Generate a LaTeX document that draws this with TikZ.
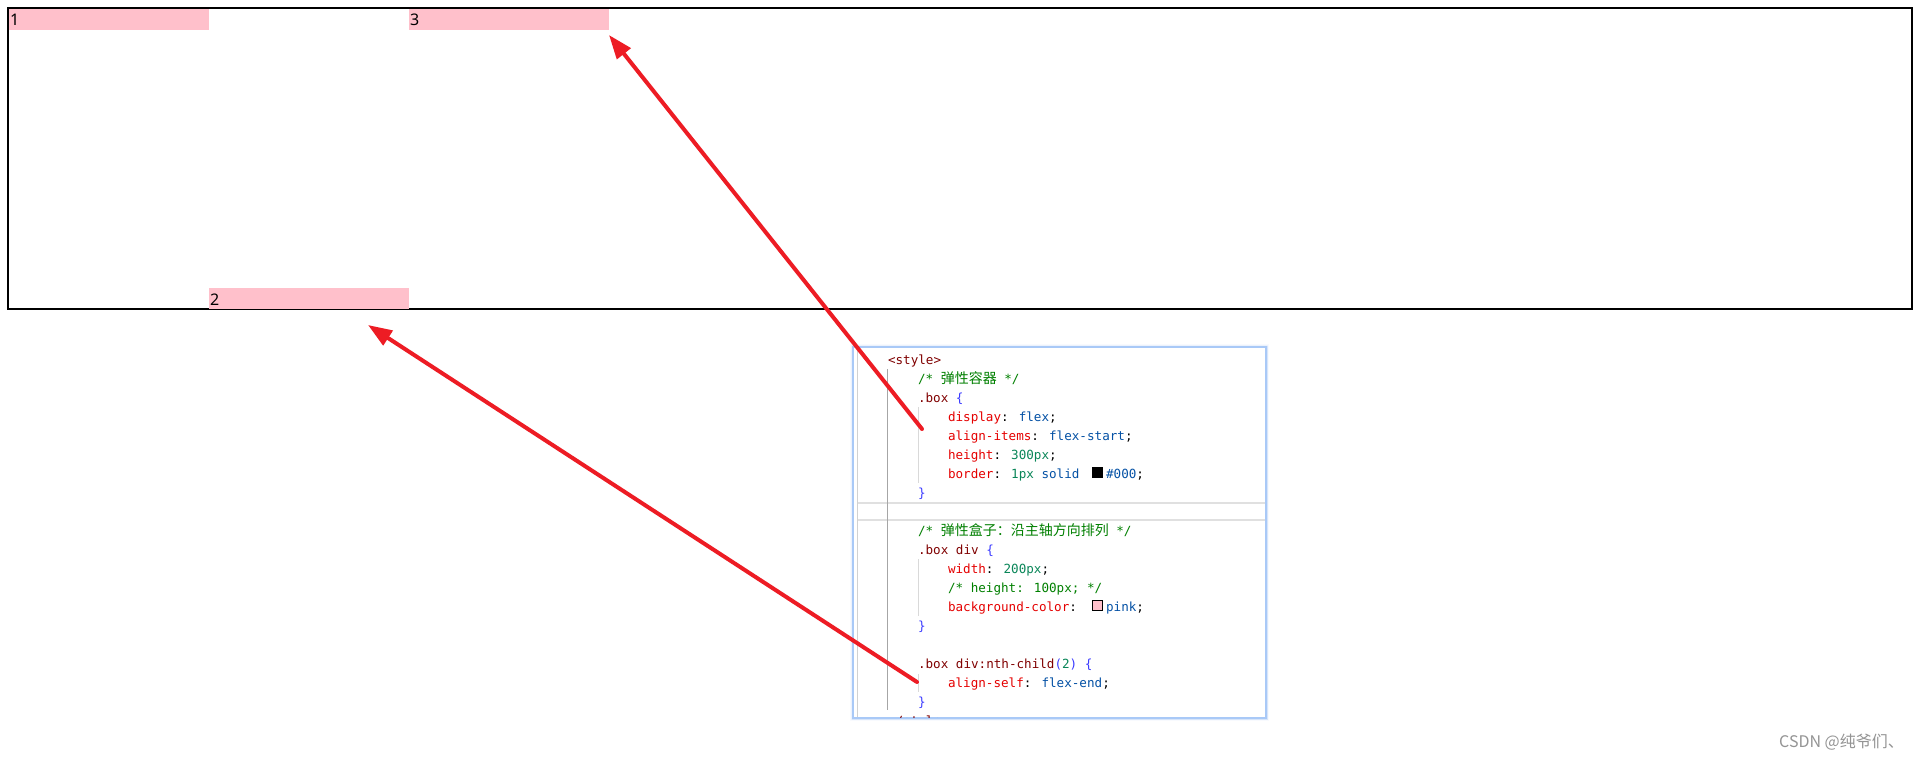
\documentclass[tikz,border=0pt]{standalone}
\usepackage{fontspec}
\usetikzlibrary{arrows.meta}
\newfontfamily\codefont{DejaVu Sans Mono}
\newfontfamily\cjk{Noto Sans CJK SC}
\newfontfamily\labfont{Noto Sans}
\definecolor{pinkc}{HTML}{FFC0CB}
\definecolor{ctag}{HTML}{800000}
\definecolor{ccom}{HTML}{008000}
\definecolor{csel}{HTML}{800000}
\definecolor{cbr}{HTML}{3B3BFF}
\definecolor{cprop}{HTML}{E50000}
\definecolor{cval}{HTML}{0451A5}
\definecolor{cnum}{HTML}{098658}
\definecolor{arrowred}{HTML}{ED1C24}
\definecolor{glow}{HTML}{A9C9F7}
\newcommand\Tg[1]{\textcolor{ctag}{#1}}
\newcommand\Cm[1]{\textcolor{ccom}{#1}}
\newcommand\Sl[1]{\textcolor{csel}{#1}}
\newcommand\Br[1]{\textcolor{cbr}{#1}}
\newcommand\Pp[1]{\textcolor{cprop}{#1}}
\newcommand\Vl[1]{\textcolor{cval}{#1}}
\newcommand\Nm[1]{\textcolor{cnum}{#1}}
\newcommand\Cj[1]{{\cjk\fontsize{14}{14}\selectfont #1}}
\newcommand\Sw[1]{\hspace{5pt}\raisebox{1pt}{\setlength\fboxsep{0pt}\setlength\fboxrule{0.8pt}\fcolorbox{black}{#1}{\rule{0pt}{9.4pt}\rule{9.4pt}{0pt}}}\hspace{3pt}}
\tikzset{
  code/.style={anchor=base west, inner sep=0pt, outer sep=0pt, font=\codefont\fontsize{12.6}{15}\selectfont},
  pinkbox/.style={fill=pinkc, anchor=north west, minimum width=200pt, minimum height=21pt, inner sep=0pt, outer sep=0pt},
  digit/.style={anchor=base west, inner sep=0pt, font=\labfont\fontsize{16}{16}\selectfont},
  redarrow/.style={draw=arrowred, line width=4pt, line cap=round, -{Triangle[length=24pt,width=17pt]}},
  guide/.style={draw=black!35, line width=1pt},
  subguide/.style={draw=black!15, line width=1pt}
}
\begin{document}
\begin{tikzpicture}[x=1pt,y=-1pt]
\useasboundingbox (0,0) rectangle (1920,760);
\fill[white] (0,0) rectangle (1920,760);
% container
\node[draw, line width=1.3pt, anchor=north west, minimum width=1904pt, minimum height=301pt, inner sep=0pt, outer sep=0pt] (container) at (8,8) {};
\node[pinkbox] (b1) at (9,9) {};
\node[pinkbox] (b3) at (409,9) {};
\node[pinkbox] (b2) at (209,288) {};
\node[digit] (t1) at (10,26) {1};
\node[digit] (t3) at (410,26) {3};
\node[digit] (t2) at (210,305) {2};
% code panel glow
\foreach \g/\o in {6/0.08,4.5/0.15,3/0.3} {
  \draw[glow, line width=\g pt, opacity=\o] (853,347) rectangle (1266,718);
}
\node[draw=glow, line width=1.5pt, fill=white, anchor=north west, minimum width=413pt, minimum height=371pt, inner sep=0pt, outer sep=0pt] (panel) at (853,347) {};
\draw[draw=black!18, line width=1pt] (857.5,348) -- (857.5,717);
% current-line highlight
\draw[draw=black!12, line width=1.6pt] (858,503) -- (1265,503) (858,520) -- (1265,520);
% indent guides
\draw[guide] (887.5,369) -- (887.5,710);
\draw[subguide] (918,407) -- (918,483);
\draw[subguide] (918,559) -- (918,616);
\draw[subguide] (918,674) -- (918,692);
% code lines
\begin{scope}
\clip (854,348) rectangle (1265,717);
\node[code] (l1) at (888,364) {\Tg{<style>}};
\node[code] (l2) at (918,383) {\Cm{/* \Cj{弹性容器} */}};
\node[code] (l3) at (918,402) {\Sl{.box} \Br{\{}};
\node[code] (l4) at (948,421) {\Pp{display}: \Vl{flex};};
\node[code] (l5) at (948,440) {\Pp{align-items}: \Vl{flex-start};};
\node[code] (l6) at (948,459) {\Pp{height}: \Nm{300px};};
\node[code] (l7) at (948,478) {\Pp{border}: \Nm{1px} \Vl{solid} \Sw{black}\Vl{\#000};};
\node[code] (l8) at (918,497) {\Br{\}}};
\node[code] (l10) at (918,535) {\Cm{/* \Cj{弹性盒子：沿主轴方向排列} */}};
\node[code] (l11) at (918,554) {\Sl{.box div} \Br{\{}};
\node[code] (l12) at (948,573) {\Pp{width}: \Nm{200px};};
\node[code] (l13) at (948,592) {\Cm{/* height: 100px; */}};
\node[code] (l14) at (948,611) {\Pp{background-color}: \Sw{pinkc}\Vl{pink};};
\node[code] (l15) at (918,630) {\Br{\}}};
\node[code] (l17) at (918,668) {\Sl{.box div:nth-child}\Br{(}\Nm{2}\Br{)} \Br{\{}};
\node[code] (l18) at (948,687) {\Pp{align-self}: \Vl{flex-end};};
\node[code] (l19) at (918,706) {\Br{\}}};
\node[code] (l20) at (888,725) {\Tg{</style>}};
\end{scope}
% watermark
\node[anchor=base west, inner sep=0pt, font=\cjk\fontsize{16}{16}\selectfont, text=black!42] (wm) at (1779,747) {CSDN @纯爷们、};
% arrows
\coordinate (a1s) at (922,429);
\coordinate (a1e) at ([shift={(0,5)}]b3.south east);
\coordinate (a2s) at (917,682);
\coordinate (a2e) at (368,325);
\draw[redarrow] (a1s) -- (a1e);
\draw[redarrow] (a2s) -- (a2e);
\end{tikzpicture}
\end{document}
